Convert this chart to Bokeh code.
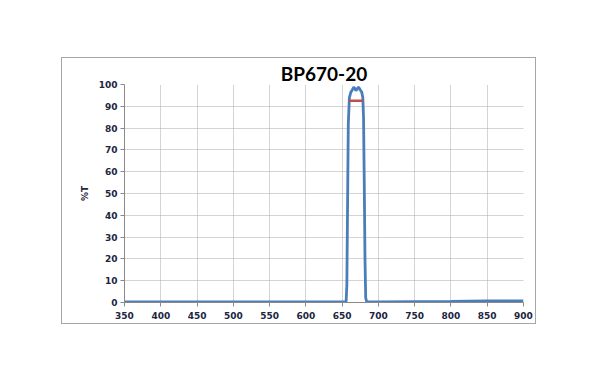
from bokeh.plotting import figure
from bokeh.models import Range1d, FixedTicker, Spacer
from bokeh.layouts import column, row
from bokeh.embed import file_html
from bokeh.resources import INLINE

title_text = "BP670-20"
y_label = "%T"
x_ticks = [350, 400, 450, 500, 550, 600, 650, 700, 750, 800, 850, 900]
y_ticks = [0, 10, 20, 30, 40, 50, 60, 70, 80, 90, 100]

wavelength = [350, 400, 500, 600, 650, 654, 655.5, 656.5, 657.5, 658.5, 660, 662, 664, 666,
              668, 669, 670, 672, 673, 675, 677, 678.5, 679.5, 680.5, 681.5, 682.5, 684,
              700, 750, 800, 850, 900]
transmission = [0.3, 0.3, 0.3, 0.3, 0.3, 0.3, 0.5, 8, 45, 82, 94, 96.5, 97.5, 98.8,
                98, 97.2, 97.6, 98.6, 98.7, 97.5, 96.5, 94, 85, 55, 20, 2, 0.3,
                0.3, 0.4, 0.5, 0.7, 0.7]

avg_x = [659, 679]
avg_y = [92.5, 92.5]

tick_color = "#1b2540"
font = "DejaVu Sans"

p = figure(width=475, height=267, x_range=Range1d(350, 900), y_range=Range1d(0, 100),
           output_backend="svg", toolbar_location=None,
           min_border_left=62, min_border_right=14, min_border_top=26, min_border_bottom=23,
           styles={"border": "1px solid #a6a6a6"})
p.outline_line_color = None
p.background_fill_color = "white"
p.border_fill_color = "white"

p.title.text = title_text
p.title.align = "center"
p.title.text_font = "Lato"
p.title.text_font_style = "bold"
p.title.text_font_size = "19px"
p.title.text_color = "black"
p.title.standoff = 0
p.title.offset = 0

for ax in (p.xaxis, p.yaxis):
    ax.axis_line_color = "#8a8a8a"
    ax.major_tick_line_color = "#8a8a8a"
    ax.minor_tick_line_color = None
    ax.major_tick_in = 0
    ax.major_tick_out = 4
    ax.major_label_text_font = font
    ax.major_label_text_font_style = "bold"
    ax.major_label_text_font_size = "9px"
    ax.major_label_text_color = tick_color

p.xaxis.ticker = FixedTicker(ticks=x_ticks)
p.yaxis.ticker = FixedTicker(ticks=y_ticks)
p.xaxis.major_label_standoff = 5
p.yaxis.major_label_standoff = 3
p.yaxis.axis_label = y_label
p.yaxis.axis_label_text_font = font
p.yaxis.axis_label_text_font_style = "bold"
p.yaxis.axis_label_text_font_size = "9px"
p.yaxis.axis_label_text_color = tick_color
p.yaxis.axis_label_standoff = 6

for g in (p.xgrid, p.ygrid):
    g.grid_line_color = "#a8a8a8"
    g.grid_line_dash = "1 1"
    g.grid_line_width = 1

p.line(wavelength, transmission, line_color="#4a7ebb", line_width=2.8)
p.line(avg_x, avg_y, line_color="#c0504d", line_width=2.5)

layout = column(Spacer(height=57), row(Spacer(width=61), p))
open("out.html", "w").write(file_html(layout, INLINE))
